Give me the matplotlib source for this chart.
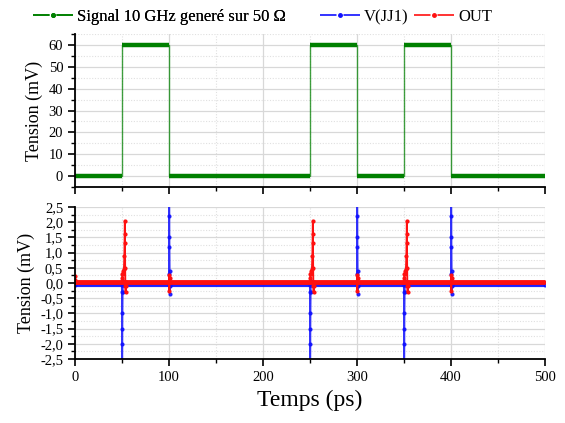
import matplotlib
matplotlib.use("Agg")
import matplotlib.pyplot as plt
from matplotlib.ticker import MultipleLocator, FuncFormatter
from matplotlib.lines import Line2D

plt.rcParams['font.family'] = ['Liberation Serif', 'DejaVu Serif']

# ---- Data ----
# Input signal (square pulses), edges in ps and levels in mV
sig_edges = [0, 50, 100, 250, 300, 350, 400, 500]
sig_levels = [0, 60, 0, 60, 0, 60, 0]

# V(JJ1) (mV) vs time (ps)
vjj_t = [0, 49.7, 50.0, 50.1, 50.2, 50.35, 50.5, 50.7, 51.0, 51.3,
         99.8, 100.0, 100.1, 100.2, 100.35, 100.5, 100.7, 100.9, 101.2, 101.5,
         249.7, 250.0, 250.1, 250.2, 250.35, 250.5, 250.7, 251.0, 251.3,
         299.8, 300.0, 300.1, 300.2, 300.35, 300.5, 300.7, 300.9, 301.2, 301.5,
         349.7, 350.0, 350.1, 350.2, 350.35, 350.5, 350.7, 351.0, 351.3,
         399.8, 400.0, 400.1, 400.2, 400.35, 400.5, 400.7, 400.9, 401.2, 401.5,
         500]
vjj_v = [-0.05, -0.05, -0.3, -1.5, -2.9, -2.0, -1.0, -0.3, 0.05, -0.05,
         -0.05, 0.3, 1.5, 2.9, 2.2, 1.2, 0.4, -0.35, -0.1, -0.05,
         -0.05, -0.3, -1.5, -2.9, -2.0, -1.0, -0.3, 0.05, -0.05,
         -0.05, 0.3, 1.5, 2.9, 2.2, 1.2, 0.4, -0.35, -0.1, -0.05,
         -0.05, -0.3, -1.5, -2.9, -2.0, -1.0, -0.3, 0.05, -0.05,
         -0.05, 0.3, 1.5, 2.9, 2.2, 1.2, 0.4, -0.35, -0.1, -0.05,
         -0.05]

# OUT (mV) vs time (ps)
out_t = [0, 0.5, 1.0,
         49.5, 50.0, 50.5, 51.0, 51.5, 52.0, 52.5, 52.8, 53.0, 53.2, 53.4, 53.6, 53.8, 54.2, 54.6,
         99.8, 100.0, 100.3, 100.6, 101.0,
         249.5, 250.0, 250.5, 251.0, 251.5, 252.0, 252.5, 252.8, 253.0, 253.2, 253.4, 253.6, 253.8, 254.2, 254.6,
         299.8, 300.0, 300.3, 300.6, 301.0,
         349.5, 350.0, 350.5, 351.0, 351.5, 352.0, 352.5, 352.8, 353.0, 353.2, 353.4, 353.6, 353.8, 354.2, 354.6,
         399.8, 400.0, 400.3, 400.6, 401.0,
         500]
out_v = [0.22, 0.1, 0.02,
         0.02, 0.15, 0.3, 0.4, 0.3, 0.45, 0.9, 1.6, 2.05, 1.3, 0.5, -0.1, -0.3, -0.1, 0.02,
         0.02, 0.25, -0.25, 0.15, 0.02,
         0.02, 0.15, 0.3, 0.4, 0.3, 0.45, 0.9, 1.6, 2.05, 1.3, 0.5, -0.1, -0.3, -0.1, 0.02,
         0.02, 0.25, -0.25, 0.15, 0.02,
         0.02, 0.15, 0.3, 0.4, 0.3, 0.45, 0.9, 1.6, 2.05, 1.3, 0.5, -0.1, -0.3, -0.1, 0.02,
         0.02, 0.25, -0.25, 0.15, 0.02,
         0.02]

labels = ["Signal 10 GHz generé sur 50 Ω", "V(JJ1)", "OUT"]
green, blue, red = "#008000", "#1010ff", "#ff1010"

# ---- Figure ----
fig = plt.figure(figsize=(5.65, 4.23), dpi=100)
W, H = 565, 423
x0, x1 = 75 / W, 545 / W
ax1 = fig.add_axes([x0, 1 - 187 / H, x1 - x0, (187 - 34) / H])
ax2 = fig.add_axes([x0, 1 - 359 / H, x1 - x0, (359 - 207) / H])

def style(ax):
    for s in ("top", "right"):
        ax.spines[s].set_visible(False)
    for s in ("left", "bottom"):
        ax.spines[s].set_linewidth(1.3)
    ax.tick_params(which="major", direction="out", length=5, width=1.2, labelsize=10.5)
    ax.tick_params(which="minor", direction="out", length=3, width=1.0)
    ax.grid(which="major", color="#d8d8d8", lw=0.9, ls="-")
    ax.grid(which="minor", color="#e0e0e0", lw=0.8, ls=(0, (1, 1.5)))
    ax.set_axisbelow(True)
    ax.set_xlim(0, 500)
    ax.xaxis.set_major_locator(MultipleLocator(100))
    ax.xaxis.set_minor_locator(MultipleLocator(50))

# Top panel
style(ax1)
ax1.stairs(sig_levels, sig_edges, color=green, lw=1.0, alpha=0.75, baseline=None)
ax1.hlines(sig_levels, sig_edges[:-1], sig_edges[1:], color=green, lw=3.2)
ax1.set_ylim(-5, 65)
ax1.yaxis.set_major_locator(MultipleLocator(10))
ax1.yaxis.set_minor_locator(MultipleLocator(5))
ax1.tick_params(axis="x", labelbottom=False)
ax1.set_ylabel("Tension (mV)", fontsize=13)

# Bottom panel
style(ax2)
ax2.plot([vjj_t[0], vjj_t[-1]], [vjj_v[0], vjj_v[-1]], color=blue, lw=3, alpha=0.9)
ax2.plot(vjj_t, vjj_v, color=blue, lw=1.3, marker="o", ms=2, alpha=0.85)
ax2.plot([out_t[2], out_t[-1]], [out_v[2], out_v[-1]], color=red, lw=3.5)
ax2.plot(out_t, out_v, color=red, lw=1.3, marker="o", ms=2)
ax2.set_ylim(-2.5, 2.5)
ax2.yaxis.set_major_locator(MultipleLocator(0.5))
ax2.yaxis.set_minor_locator(MultipleLocator(0.25))
ax2.yaxis.set_major_formatter(FuncFormatter(lambda v, p: f"{v:.1f}".replace(".", ",").replace("-0,0", "0,0")))
ax2.set_ylabel("Tension (mV)", fontsize=13)
ax2.set_xlabel("Temps (ps)", fontsize=17)

# Legends
def handle(c):
    return Line2D([], [], color=c, lw=1.2, ls=(0, (9.9, 4.2)), marker="o", ms=2.5)

common = dict(frameon=False, fontsize=12, handlelength=2.4, handletextpad=0.25,
              numpoints=1, borderpad=0, borderaxespad=0, loc="center left")
leg1 = fig.legend([handle(green)], labels[:1], bbox_to_anchor=(33 / W, 1 - 17 / H), **common)
fig.add_artist(leg1)
fig.legend([handle(blue), handle(red)], labels[1:], bbox_to_anchor=(320 / W, 1 - 17 / H),
           ncol=2, columnspacing=0.3, **common)

fig.savefig("out.png", dpi=100)
